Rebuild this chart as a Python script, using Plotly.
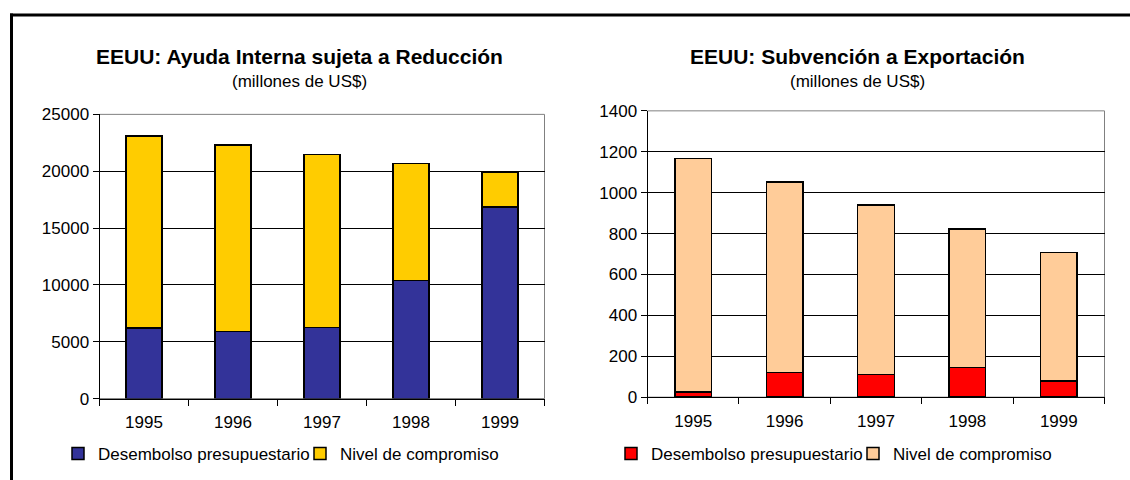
import plotly.graph_objects as go

years = ["1995", "1996", "1997", "1998", "1999"]

# Ayuda interna (millones US$): stacked segments as drawn
ayuda_desembolso = [6214, 5898, 6238, 10392, 16862]
ayuda_compromiso = [16869, 16389, 15253, 10303, 3037]

# Subvención a exportación (millones US$): stacked segments as drawn
export_desembolso = [25, 121, 111, 145, 79]
export_compromiso = [1143, 932, 828, 678, 629]

title_left = "EEUU: Ayuda Interna sujeta a Reducción"
title_right = "EEUU: Subvención a Exportación"
subtitle = "(millones de US$)"
name_des = "Desembolso presupuestario"
name_com = "Nivel de compromiso"

FONT = "Liberation Sans, Arial, sans-serif"
W, H = 1130, 492
# vertical mapping observed in the photographed page
VA, VB = 8.5, 0.958

fig = go.Figure()
line = dict(color="black", width=1.5)
fig.add_trace(go.Bar(x=years, y=ayuda_desembolso, name=name_des, marker=dict(color="#333399", line=line),
                     xaxis="x", yaxis="y", legend="legend"))
fig.add_trace(go.Bar(x=years, y=ayuda_compromiso, name=name_com, marker=dict(color="#FFCC00", line=line),
                     xaxis="x", yaxis="y", legend="legend"))
fig.add_trace(go.Bar(x=years, y=export_desembolso, name=name_des, marker=dict(color="#FF0000", line=line),
                     xaxis="x2", yaxis="y2", legend="legend2"))
fig.add_trace(go.Bar(x=years, y=export_compromiso, name=name_com, marker=dict(color="#FFCC99", line=line),
                     xaxis="x2", yaxis="y2", legend="legend2"))

def px(v):
    return v / W

def py(v):
    return 1 - ((v - VA) / VB) / H

xcommon = dict(type="category", showline=True, linecolor="black", linewidth=1, ticks="outside",
               tickson="boundaries", ticklen=6, tickcolor="black", showgrid=False,
               tickfont=dict(family=FONT, size=17, color="black"), ticklabelstandoff=8)
ycommon = dict(showline=True, linecolor="black", linewidth=1, ticks="outside", ticklen=6,
               tickcolor="black", showgrid=True, gridcolor="black", gridwidth=1, zeroline=False,
               tickformat="d", tickfont=dict(family=FONT, size=17, color="black"))
lcommon = dict(orientation="h", xanchor="left", yanchor="middle", font=dict(family=FONT, size=17),
               bgcolor="rgba(0,0,0,0)", traceorder="normal", itemwidth=30,
               entrywidth=197, entrywidthmode="pixels")

fig.update_layout(
    width=W, height=H, margin=dict(l=0, r=0, t=0, b=0),
    paper_bgcolor="white", plot_bgcolor="white",
    barmode="stack", bargap=0.6,
    font=dict(family=FONT, color="black"),
    xaxis=dict(domain=[px(99.5), px(544.5)], anchor="y", **xcommon),
    yaxis=dict(domain=[py(396.7), py(113.5)], anchor="x", range=[0, 25000], dtick=5000, **ycommon),
    xaxis2=dict(domain=[px(647.5), px(1104.5)], anchor="y2", **xcommon),
    yaxis2=dict(domain=[py(395.3), py(110)], anchor="x2", range=[0, 1400], dtick=200, **ycommon),
    legend=dict(x=px(58), y=py(452), **lcommon),
    legend2=dict(x=px(611), y=py(452), **lcommon),
    showlegend=True,
)

# plot-area frame (grey top/right)
for xr, yr in (("x domain", "y domain"), ("x2 domain", "y2 domain")):
    fig.add_shape(type="rect", xref=xr, yref=yr, x0=0, x1=1, y0=0, y1=1,
                  line=dict(color="#808080", width=1), layer="below")

# outer black border (top and left)
fig.add_shape(type="line", xref="paper", yref="paper", x0=px(10), x1=1, y0=py(14.5), y1=py(14.5),
              line=dict(color="black", width=3))
fig.add_shape(type="line", xref="paper", yref="paper", x0=px(11.5), x1=px(11.5), y0=py(13), y1=0,
              line=dict(color="black", width=3))

for cx, t in ((299, title_left), (857, title_right)):
    fig.add_annotation(x=px(cx), y=py(56), xref="paper", yref="paper", text="<b>%s</b>" % t,
                       showarrow=False, xanchor="center", yanchor="middle",
                       font=dict(family=FONT, size=21, color="black"))
    fig.add_annotation(x=px(cx), y=py(80.5), xref="paper", yref="paper", text=subtitle,
                       showarrow=False, xanchor="center", yanchor="middle",
                       font=dict(family=FONT, size=17, color="black"))

fig.write_html("out.html", config={"displayModeBar": False},
               post_script="document.body.style.margin='0';document.body.style.overflow='hidden';")
